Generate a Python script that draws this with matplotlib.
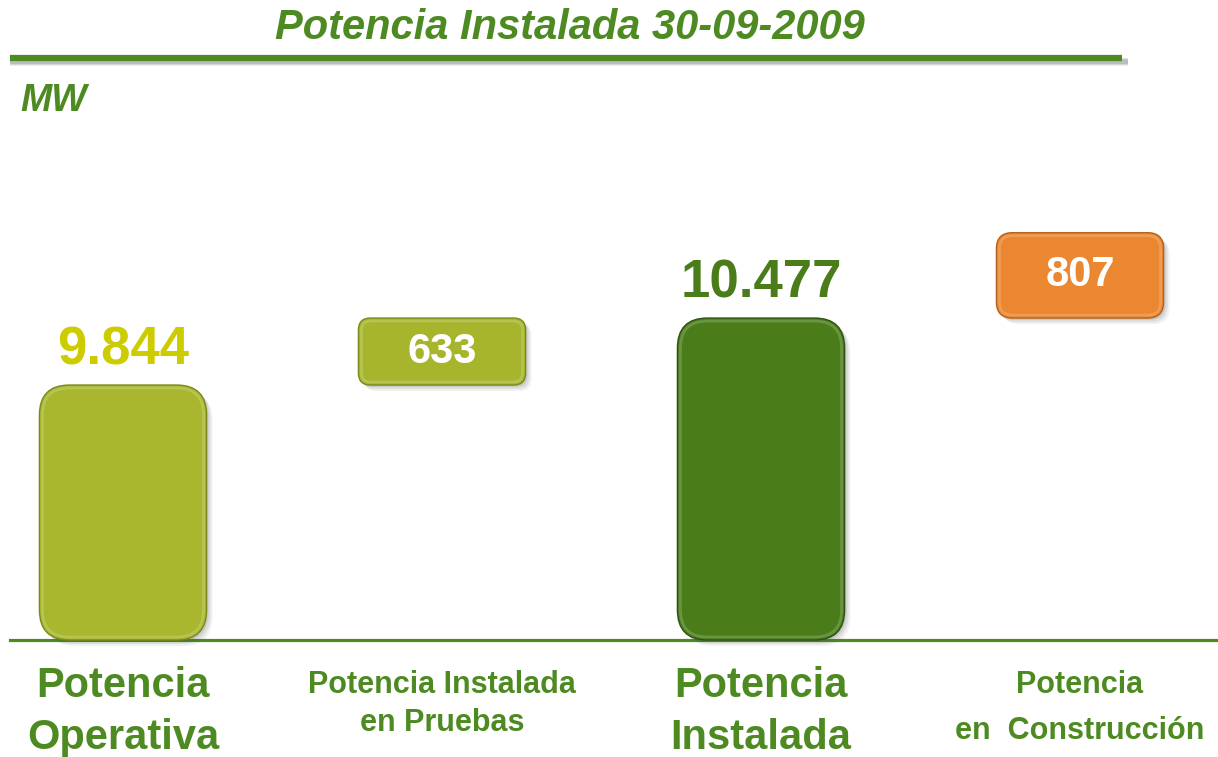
import matplotlib
matplotlib.use("Agg")
import matplotlib.pyplot as plt
from matplotlib.patches import FancyBboxPatch
from matplotlib.lines import Line2D
import matplotlib.transforms as mtransforms

# ---------------- data ----------------
categories = ["Potencia\nOperativa", "Potencia Instalada\nen Pruebas",
              "Potencia\nInstalada", "Potencia\nen  Construcción"]
values = [9844, 633, 10477, 807]
bottoms = [None, 9844, None, 10477]          # floating bars start on previous total
value_labels = ["9.844", "633", "10.477", "807"]
axis_floor = 7434                              # value at the drawn base line

# ---------------- style ----------------
W, H = 1218, 757
bar_colors = ["#a8b72d", "#a6b52b", "#4a7d1a", "#ea8730"]
edge_colors = ["#7b8a18", "#7b8a18", "#2f5410", "#b8621a"]
label_colors = ["#cccc00", "#ffffff", "#4a7d1a", "#ffffff"]
label_sizes = [38, 30, 38, 30]
cat_sizes = [30, 22, 30, 22]
cat_baselines = [[697, 749], [693, 731], [697, 749], [693, 739]]
green = "#4e8a22"
corner_px = [30, 12, 30, 16]

plt.rcParams["font.family"] = ["Liberation Sans", "DejaVu Sans"]

fig = plt.figure(figsize=(W / 100, H / 100), dpi=100)
fig.patch.set_facecolor("white")

ax_left, ax_right, ax_top, ax_bot = 10, 1218, 200, 640
ax = fig.add_axes([ax_left / W, 1 - ax_bot / H, (ax_right - ax_left) / W, (ax_bot - ax_top) / H])
ax.set_axis_off()
x = list(range(len(categories)))
ax.set_xlim(-113 / 319, (1208 - 113) / 319)
ax.set_ylim(axis_floor, axis_floor + 440 / 0.1058)
width = 0.524

fig.canvas.draw()
p0 = ax.transData.transform((0, axis_floor))
p1 = ax.transData.transform((1, axis_floor + 1000))
px_per_x = p1[0] - p0[0]
px_per_y = (p1[1] - p0[1]) / 1000
aspect = px_per_x / px_per_y

bar_bottoms = [axis_floor if b is None else b for b in bottoms]
bar_heights = [v - axis_floor if b is None else v for v, b in zip(values, bottoms)]
bars = ax.bar(x, bar_heights, width=width, bottom=bar_bottoms, alpha=0)

for i, rect in enumerate(bars):
    x0, y0 = rect.get_x(), rect.get_y()
    w, h = rect.get_width(), rect.get_height()
    r = corner_px[i] / px_per_x
    style = f"round,pad=0,rounding_size={r}"
    for dx, a in [(6, 0.08), (4, 0.12), (2, 0.15)]:
        tr = mtransforms.offset_copy(ax.transData, fig=fig, x=dx, y=-dx, units="dots")
        sh = FancyBboxPatch((x0, y0), w, h, boxstyle=style, mutation_aspect=aspect,
                            facecolor="#555555", edgecolor="none", alpha=a,
                            transform=tr, zorder=1, clip_on=False)
        ax.add_patch(sh)
    p = FancyBboxPatch((x0, y0), w, h, boxstyle=style, mutation_aspect=aspect,
                       facecolor=bar_colors[i], edgecolor=edge_colors[i], linewidth=1.0,
                       zorder=2, clip_on=False)
    ax.add_patch(p)
    inset = 3 / px_per_x
    insety = 3 / px_per_y
    hl = FancyBboxPatch((x0 + inset, y0 + insety), w - 2 * inset, h - 2 * insety,
                        boxstyle=f"round,pad=0,rounding_size={max(r - inset, 0.001)}",
                        mutation_aspect=aspect, facecolor="none",
                        edgecolor="white", alpha=0.18, linewidth=2, zorder=3, clip_on=False)
    ax.add_patch(hl)

    top = y0 + h
    if bottoms[i] is None:
        ax.annotate(value_labels[i], (x[i], top), xytext=(0, 7), textcoords="offset points",
                    ha="center", va="bottom", fontsize=label_sizes[i], fontweight="bold",
                    color=label_colors[i], zorder=5)
    else:
        ax.text(x[i], y0 + h / 2, value_labels[i], ha="center", va="center",
                fontsize=label_sizes[i], fontweight="bold", color=label_colors[i], zorder=5)

ax.axhline(axis_floor, color=green, linewidth=2.3, zorder=0.5, clip_on=False)

btr = mtransforms.blended_transform_factory(ax.transData, fig.transFigure)
for i, cat in enumerate(categories):
    for line, yb in zip(cat.split("\n"), cat_baselines[i]):
        ax.text(x[i], 1 - yb / H, line, transform=btr, ha="center", va="baseline",
                fontsize=cat_sizes[i], fontweight="bold", color=green)

fig.text(570 / W, 1 - 39 / H, "Potencia Instalada 30-09-2009", ha="center", va="baseline",
         fontsize=30, fontweight="bold", fontstyle="italic", color=green)
for dy, a in [(5, 0.10), (4, 0.15), (3, 0.2)]:
    fig.add_artist(Line2D([10 / W + 3 / W, 1122 / W + 3 / W], [1 - (58 + dy) / H] * 2,
                          transform=fig.transFigure, color="#555555", alpha=a, linewidth=4.3))
fig.add_artist(Line2D([10 / W, 1122 / W], [1 - 58 / H] * 2, transform=fig.transFigure,
                      color="#4e8a22", linewidth=4.5, solid_capstyle="butt"))
fig.text(20 / W, 1 - 111 / H, "MW", ha="left", va="baseline", fontsize=27,
         fontweight="bold", fontstyle="italic", color=green)

fig.savefig("out.png", dpi=100, facecolor="white")
